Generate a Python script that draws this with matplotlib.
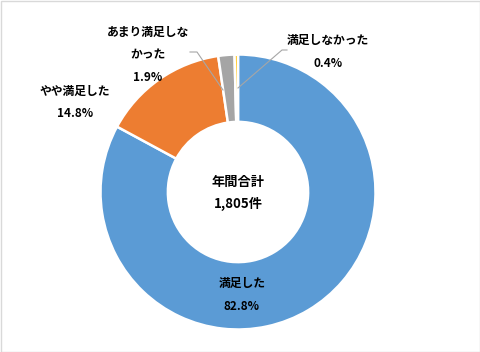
import matplotlib
matplotlib.use("Agg")
import matplotlib.pyplot as plt
from matplotlib.patches import Rectangle

plt.rcParams['font.family'] = ['Noto Sans CJK JP', 'DejaVu Sans']

# data
labels = ['満足した', 'やや満足した', 'あまり満足しな\nかった', '満足しなかった']
shares = [82.8, 14.8, 1.9, 0.4]
colors = ['#5B9BD5', '#ED7D31', '#A5A5A5', '#FFC000']
center_text = '年間合計\n1,805件'

W, H = 481, 352
fig = plt.figure(figsize=(W / 100, H / 100), dpi=100)
ax = fig.add_axes([0, 0, 1, 1])


def py(y):
    # image y (top-down) -> axes y
    return H - y


cx, cy, r = 238, 192, 137.5
ax.pie(shares, colors=colors, radius=r, center=(cx, py(cy)),
       startangle=90, counterclock=False, frame=True,
       wedgeprops=dict(width=r * 0.49, edgecolor='white', linewidth=1.8))
ax.set_xlim(0, W)
ax.set_ylim(0, H)
ax.axis('off')

ax.text(cx, py(cy + 1), center_text, ha='center', va='center',
        fontsize=9.5, fontweight='bold', linespacing=1.75)

# slice labels
txt = [f'{l}\n{v}%' for l, v in zip(labels, shares)]
pos = [(242, 295), (75, 102.5), (148, 55), (328, 52)]
for t, (x, y) in zip(txt, pos):
    ax.text(x, py(y), t, ha='center', va='center', fontsize=8.5,
            fontweight='bold', linespacing=1.95)

# leader lines
ax.plot([190, 197, 223], [py(52), py(52), py(90)], color='#A6A6A6', lw=0.8)
ax.plot([287, 282, 238], [py(50), py(50), py(88)], color='#A6A6A6', lw=0.8)

fig.add_artist(Rectangle((0.5 / W, 0.5 / H), 1 - 1.5 / W, 1 - 1.5 / H,
                         transform=fig.transFigure, fill=False,
                         edgecolor='#D9D9D9', lw=1))
fig.savefig('out.png', dpi=100)
